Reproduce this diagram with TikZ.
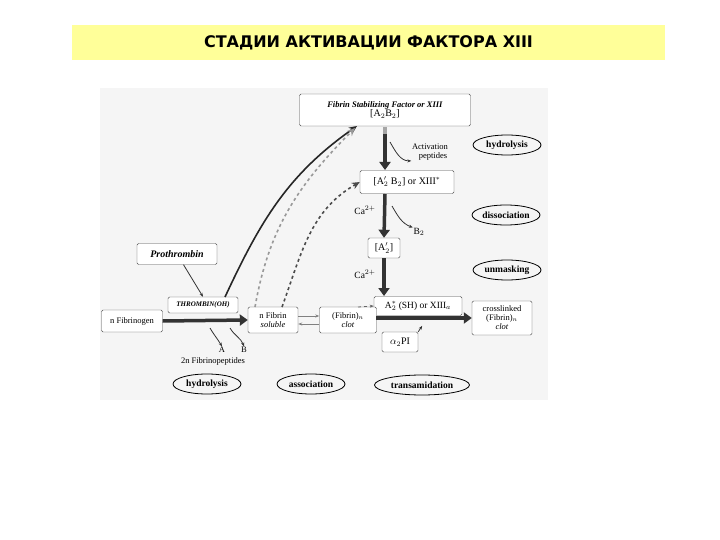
\documentclass[tikz,border=0pt]{standalone}
\usepackage{fontspec}
\setmainfont{Liberation Serif}
\newfontfamily\titlefont{DejaVu Sans}
\usetikzlibrary{arrows.meta,shapes.geometric}
\begin{document}
\begin{tikzpicture}[x=1pt,y=-1pt,
 box/.style={draw=black!70,rounded corners=1.5pt,fill=white,inner sep=1.5pt,align=center,font=\fontsize{8.5}{9}\selectfont},
 oval/.style={ellipse,draw,line width=0.8pt,minimum width=68pt,minimum height=20pt,inner sep=0pt,font=\fontsize{9.5}{10}\selectfont\bfseries},
 lab/.style={font=\fontsize{8.5}{9}\selectfont,inner sep=0.5pt,align=center},
 big/.style={line width=3.5pt,black!80,-{Triangle[length=8pt,width=11pt]}},
 thin/.style={line width=0.8pt,black!80,-{Stealth[length=4pt]}},
 curv/.style={line width=1.6pt,-{Stealth[length=8pt,width=7pt]}}]
\useasboundingbox (0,0) rectangle (720,540);
\fill[white] (0,0) rectangle (720,540);
\node[fill={rgb,255:red,255;green,255;blue,153},minimum width=593pt,minimum height=35pt,inner sep=0pt,font=\titlefont\bfseries\fontsize{16}{17}\selectfont] (title) at (368.5,42.5) {СТАДИИ АКТИВАЦИИ ФАКТОРА XIII};
\fill[black!4] (100,88) rectangle (548,400);
% nodes
\node[box,minimum width=171pt,minimum height=32pt] (fsf) at (385,110) {\textit{\bfseries Fibrin Stabilizing Factor or XIII}\\{\fontsize{10}{11}\selectfont [A$_2$B$_2$]}};
\node[box,minimum width=94pt,minimum height=23pt,font=\fontsize{10}{11}\selectfont] (ab) at (407,182) {[A$_2'$ B$_2$] or XIII$^*$};
\node[box,minimum width=32pt,minimum height=20pt,font=\fontsize{10}{11}\selectfont] (a2) at (384,248) {[A$_2'$]};
\node[box,minimum width=88pt,minimum height=19pt,font=\fontsize{9.5}{10}\selectfont] (a2s) at (418,306) {A$_2^*$ (SH) or XIII$_a$};
\node[box,minimum width=60pt,minimum height=34pt] (cross) at (502,318) {crosslinked\\(Fibrin)$_n$\\\textit{clot}};
\node[box,minimum width=36pt,minimum height=20pt,font=\fontsize{10}{11}\selectfont] (pi) at (400,342) {$\alpha_2$PI};
\node[box,minimum width=57pt,minimum height=26pt] (clot) at (348,320) {(Fibrin)$_n$\\\textit{clot}};
\node[box,minimum width=50pt,minimum height=26pt] (sol) at (273,320) {n Fibrin\\\textit{soluble}};
\node[box,minimum width=70pt,minimum height=16pt,font=\fontsize{7}{8}\selectfont\itshape\bfseries] (thr) at (203,305) {THROMBIN(OH)};
\node[box,minimum width=61pt,minimum height=22pt] (fgn) at (132,321) {n Fibrinogen};
\node[box,minimum width=80pt,minimum height=21pt,font=\fontsize{10}{11}\selectfont\itshape\bfseries] (pro) at (177,254) {Prothrombin};
\node[oval] (o1) at (507,145) {hydrolysis};
\node[oval] (o2) at (506,215) {dissociation};
\node[oval] (o3) at (507,270) {unmasking};
\node[oval] (o4) at (207,384) {hydrolysis};
\node[oval] (o5) at (311,384) {association};
\node[oval,minimum width=95pt] (o6) at (422,385) {transamidation};
\node[lab] (act) at (430,152) {Activation\\\hspace*{6pt}peptides};
\node[lab,font=\fontsize{9.5}{10}\selectfont] (ca1) at (365,210) {Ca$^{2+}$};
\node[lab,font=\fontsize{9.5}{10}\selectfont] (ca2) at (365,274) {Ca$^{2+}$};
\node[lab,font=\fontsize{9.5}{10}\selectfont] (b2) at (419,232) {B$_2$};
\node[lab] (pa) at (222,350) {A};
\node[lab] (pb) at (244,350) {B};
\node[lab] (fp) at (213,361) {2n Fibrinopeptides};
% vertical arrows
\draw[line width=3.5pt,black!35] (385,127) -- (385,136);
\draw[big] (385,134) -- (385,170);
\draw[big] (385,194) -- (a2.north);
\draw[big] (a2.south) -- (384,296);
\draw[thin] (390,142) to[out=-60,in=180] (act.south west);
\draw[thin] (392,206) to[out=-60,in=160] (b2.north west);
% main horizontal arrows
\draw[big] (fgn.east) -- (sol.west);
\coordinate (xs) at (376,318);
\draw[big] (xs) -- (cross.west);
\draw[thin,black!50] (sol.east|-0,316) -- (clot.west|-0,316);
\draw[thin,black!50] (clot.west|-0,324) -- (sol.east|-0,324);
\draw[thin,dashed,black!60] (358,307) -- (a2s.west);
\draw[thin] (pi.north east) -- ++(4,-6);
\draw[thin] (pro) -- (thr.north);
\draw[thin] (210,328) to[out=-60,in=120] (pa.north);
\draw[thin] (230,328) to[out=-60,in=110] (pb.north);
% curved
\draw[curv,black!85] (225,297) to[out=65,in=215] (357,126);
\draw[curv,dashed,black!40] (255,307) to[out=80,in=225] (355,128);
\draw[curv,dashed,black!70] (282,307) to[out=70,in=210] (ab.west);
\end{tikzpicture}
\end{document}
